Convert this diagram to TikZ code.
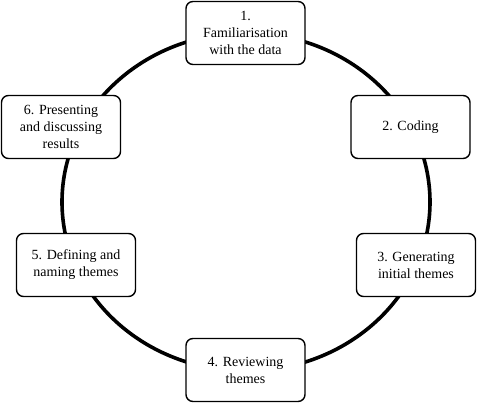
\documentclass[tikz,border=0pt]{standalone}
\usepackage{fontspec}
\setmainfont{Liberation Serif}
\usetikzlibrary{positioning,backgrounds}

\begin{document}
\begin{tikzpicture}[x=1pt, y=1pt, font=\fontsize{14}{17}\selectfont,
  stage/.style={draw, line width=1.4pt, rounded corners=7pt, fill=white,
    minimum width=119pt, minimum height=63pt, align=center, inner sep=2pt}]

\useasboundingbox (0,0) rectangle (477,406);

% Stages
\node[stage] (fam) at (245.5,373) {1.\\Familiarisation\\with the data};
\node[stage] (cod) at (410.5,279) {2. Coding};
\node[stage] (gen) at (416,141)   {3. Generating\\initial themes};
\node[stage] (rev) at (245.5,36)  {4. Reviewing\\themes};
\node[stage] (def) at (76,141)    {5. Defining and\\naming themes};
\node[stage] (pre) at (61,279)    {6. Presenting\\and discussing\\results};

% Cycle behind the stages
\coordinate (ctr) at (246,204);
\begin{scope}[on background layer]
  \draw[line width=3.6pt] (ctr) ellipse [x radius=184, y radius=169];
\end{scope}

\end{tikzpicture}
\end{document}
